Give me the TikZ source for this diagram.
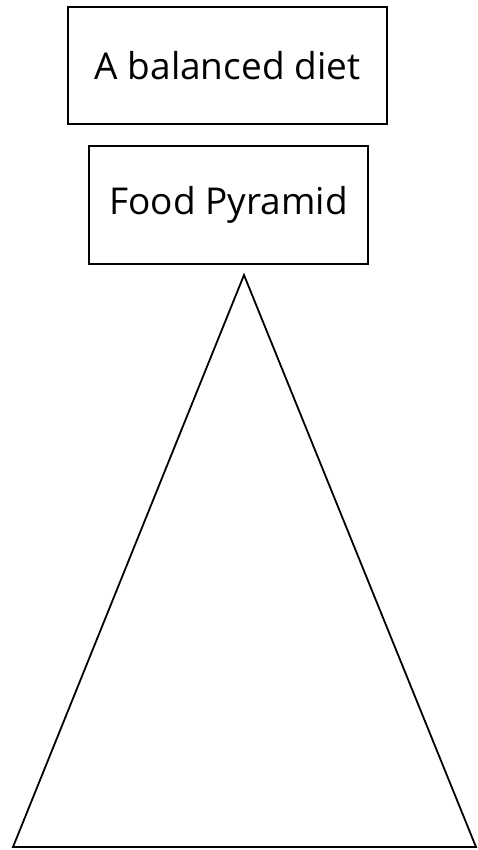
\documentclass[tikz,border=0pt]{standalone}
\usepackage{fontspec}
\setmainfont{Open Sans}
\usetikzlibrary{positioning}

\begin{document}
\begin{tikzpicture}[x=1pt, y=-1pt,
    label box/.style={rectangle, draw=black, line width=1.8pt, align=center, font=\fontsize{37}{44}\selectfont},
    edge/.style={line width=1.8pt, line join=miter}
]
\useasboundingbox (0,0) rectangle (477,850);
\node[label box, minimum width=319pt, minimum height=117pt] (diet) at (227.5,65.5) {A balanced diet};
\node[label box, minimum width=279pt, minimum height=118pt] (pyramid) at (228.5,205) {Food Pyramid};
\coordinate (apex) at (244,275);
\coordinate (left) at (13,847);
\coordinate (right) at (476,847);
\draw[edge] (apex) -- (left) -- (right) -- cycle;
\end{tikzpicture}
\end{document}
